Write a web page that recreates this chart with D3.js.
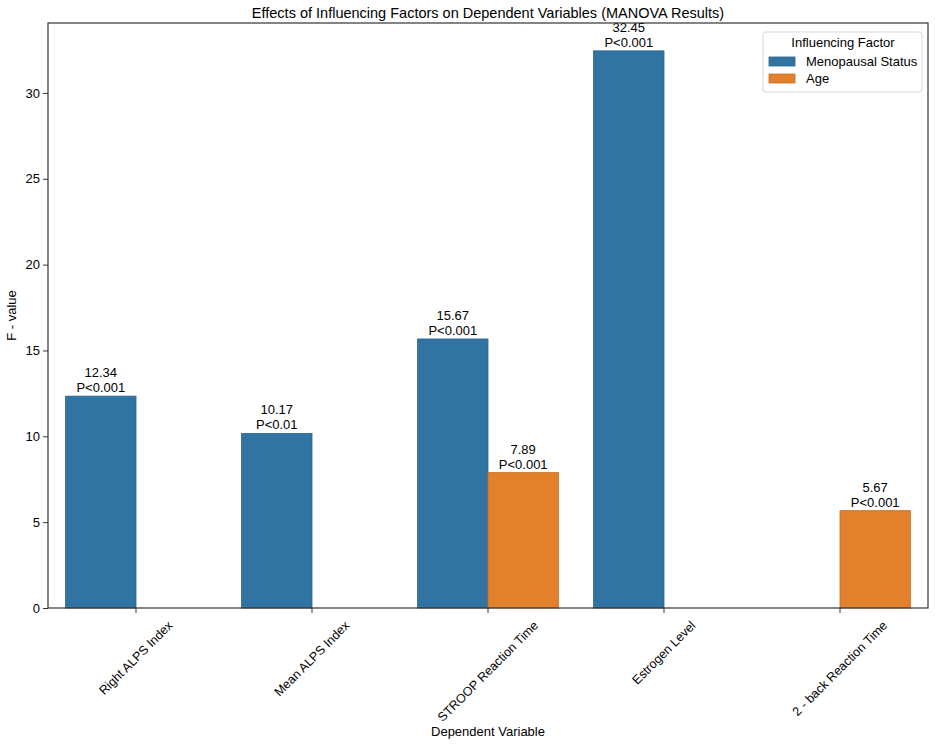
<!DOCTYPE html>
<html>
<head>
<meta charset="utf-8">
<script src="https://cdn.jsdelivr.net/npm/d3@7"></script>
<style>
  body { margin: 0; background: #fff; }
  svg { font-family: "Liberation Sans", Arial, sans-serif; }
  .tick text { font-size: 13px; fill: #000; }
</style>
</head>
<body>
<svg id="chart"></svg>
<script>
// data
const categories = ["Right ALPS Index", "Mean ALPS Index", "STROOP Reaction Time", "Estrogen Level", "2 - back Reaction Time"];
const series = ["Menopausal Status", "Age"];
const menopausalValues = [12.34, 10.17, 15.67, 32.45, null];
const ageValues = [null, null, 7.89, null, 5.67];
const menopausalP = ["P<0.001", "P<0.01", "P<0.001", "P<0.001", null];
const ageP = [null, null, "P<0.001", null, "P<0.001"];
const yTicks = [0, 5, 10, 15, 20, 25, 30];
const colors = ["#3274a1", "#e1812c"];
const edges = ["#2a6390", "#c86f22"];

const width = 935, height = 745;
const margin = {top: 23, right: 7, bottom: 137, left: 48};

const svg = d3.select("#chart").attr("width", width).attr("height", height);

let x = d3.scaleBand().domain(categories).range([margin.left, width - margin.right]).paddingInner(0.2).paddingOuter(0.1);
let hue = d3.scaleBand().domain(series).range([0, x.bandwidth()]);
let y = d3.scaleLinear().domain([0, 32.45 * 1.05]).range([height - margin.bottom, margin.top]);

// build rows for bars
let rows = [];
categories.forEach((c, i) => {
  if (menopausalValues[i] != null) rows.push({cat: c, s: 0, v: menopausalValues[i], p: menopausalP[i]});
  if (ageValues[i] != null) rows.push({cat: c, s: 1, v: ageValues[i], p: ageP[i]});
});

svg.selectAll("rect.bar").data(rows).enter().append("rect")
  .attr("class", "bar")
  .attr("x", d => x(d.cat) + hue(series[d.s]))
  .attr("width", hue.bandwidth())
  .attr("y", d => y(d.v))
  .attr("height", d => y(0) - y(d.v))
  .attr("fill", d => colors[d.s])
  .attr("stroke", d => edges[d.s])
  .attr("stroke-width", 0.8);

// value + p labels
let lab = svg.selectAll("text.lab").data(rows).enter().append("text")
  .attr("class", "lab")
  .attr("text-anchor", "middle")
  .attr("font-size", 13)
  .attr("fill", "#000");
lab.append("tspan")
  .attr("x", d => x(d.cat) + hue(series[d.s]) + hue.bandwidth() / 2)
  .attr("y", d => y(d.v) - 19)
  .text(d => d.v.toFixed(2));
lab.append("tspan")
  .attr("x", d => x(d.cat) + hue(series[d.s]) + hue.bandwidth() / 2)
  .attr("y", d => y(d.v) - 4)
  .text(d => d.p);

// axes
let yAxis = svg.append("g")
  .attr("transform", "translate(" + margin.left + ",0)")
  .call(d3.axisLeft(y).tickValues(yTicks).tickSize(5).tickPadding(3));
yAxis.select(".domain").remove();

let xAxis = svg.append("g")
  .attr("transform", "translate(0," + y(0) + ")")
  .call(d3.axisBottom(x).tickSize(5).tickFormat(""));
xAxis.select(".domain").remove();
svg.selectAll(".tick line").attr("stroke", "#333");

// rotated category labels, centered on the tick like ha='center'
categories.forEach(c => {
  let t = svg.append("text")
    .attr("font-size", 12.5)
    .attr("text-anchor", "middle")
    .attr("dominant-baseline", "central")
    .text(c);
  let L = t.node().getComputedTextLength();
  let h = (L + 12.5) * Math.SQRT1_2;
  let cx = x(c) + x.bandwidth() / 2, cy = y(0) + 11 + h / 2;
  t.attr("x", cx).attr("y", cy).attr("transform", "rotate(-45," + cx + "," + cy + ")");
});

// frame
svg.append("rect")
  .attr("x", margin.left).attr("y", margin.top)
  .attr("width", width - margin.right - margin.left)
  .attr("height", y(0) - margin.top)
  .attr("fill", "none").attr("stroke", "#333").attr("stroke-width", 1.2);

// titles
svg.append("text").attr("x", (margin.left + width - margin.right) / 2).attr("y", 18)
  .attr("text-anchor", "middle").attr("font-size", 14.5).text("Effects of Influencing Factors on Dependent Variables (MANOVA Results)");
svg.append("text").attr("x", (margin.left + width - margin.right) / 2).attr("y", 736)
  .attr("text-anchor", "middle").attr("font-size", 13).text("Dependent Variable");
svg.append("text").attr("transform", "translate(16," + ((margin.top + y(0)) / 2) + ") rotate(-90)")
  .attr("text-anchor", "middle").attr("font-size", 13).text("F - value");

// legend
let lg = svg.append("g").attr("transform", "translate(763,32)");
lg.append("rect").attr("width", 159).attr("height", 60).attr("rx", 3)
  .attr("fill", "#fff").attr("fill-opacity", 0.8).attr("stroke", "#d9d9d9");
lg.append("text").attr("x", 80).attr("y", 15).attr("text-anchor", "middle").attr("font-size", 13).text("Influencing Factor");
series.forEach((s, i) => {
  lg.append("rect").attr("x", 6).attr("y", 25 + i * 17).attr("width", 26).attr("height", 9)
    .attr("fill", colors[i]).attr("stroke", edges[i]).attr("stroke-width", 0.8);
  lg.append("text").attr("x", 43).attr("y", 34 + i * 17).attr("font-size", 13).text(s);
});
</script>
</body>
</html>
